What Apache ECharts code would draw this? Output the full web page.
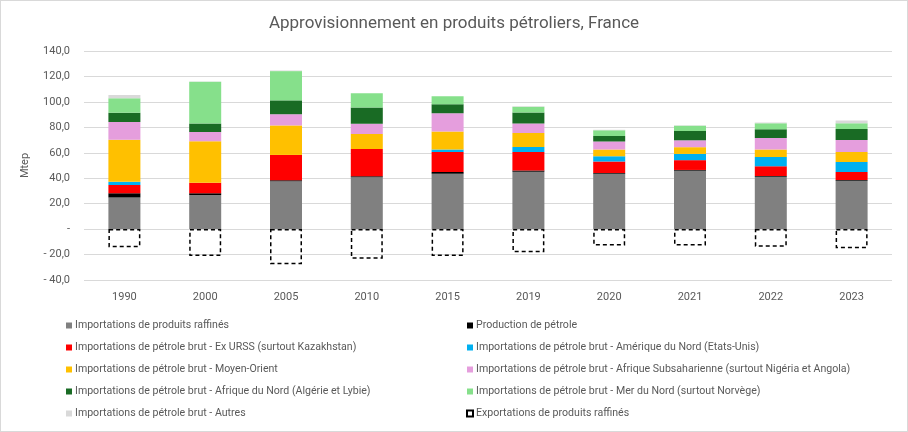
<!DOCTYPE html>
<html><head><meta charset="utf-8">
<script src="https://cdn.jsdelivr.net/npm/echarts@6/dist/echarts.min.js"></script>
<style>html,body{margin:0;padding:0;background:#fff}#c{width:906px;height:430px;border:1px solid #d9d9d9}</style>
</head><body><div id="c"></div>
<script>
const categories = ['1990','2000','2005','2010','2015','2019','2020','2021','2022','2023'];
const raffines   = [24.8, 26.9, 37.6, 40.7, 43.5, 45.1, 43.5, 45.9, 41.2, 38.1];
const production = [3.4, 1.3, 0.8, 0.8, 1.4, 1.0, 0.7, 0.6, 0.6, 0.6];
const exUrss     = [6.5, 8.3, 19.9, 21.5, 15.8, 14.6, 9.0, 7.7, 7.7, 6.2];
const ameriqueN  = [2.6, 0, 0, 0, 1.9, 3.9, 4.1, 4.9, 7.1, 7.8];
const moyenOr    = [33.0, 32.5, 23.2, 11.7, 14.2, 10.9, 5.3, 5.3, 6.0, 8.0];
const afriqueSub = [13.8, 7.3, 8.8, 8.1, 14.3, 7.6, 6.2, 5.4, 9.0, 9.3];
const afriqueN   = [7.3, 6.8, 10.9, 12.8, 7.0, 8.6, 4.4, 7.3, 6.8, 8.6];
const merNord    = [11.4, 32.7, 23.0, 11.1, 6.3, 4.4, 4.6, 4.2, 4.9, 4.7];
const autres     = [2.6, 0.3, 0.5, 0, 0, 0.5, 0.3, 0.3, 0.5, 2.1];
const exports_   = [-14.2, -21.2, -27.7, -23.2, -21.2, -18.1, -12.9, -12.9, -13.9, -15.0];
const yTicks = {min: -40, max: 140, interval: 20};

const names = [
 'Importations de produits raffinés',
 'Production de pétrole',
 'Importations de pétrole brut - Ex URSS (surtout Kazakhstan)',
 'Importations de pétrole brut - Amérique du Nord (Etats-Unis)',
 'Importations de pétrole brut - Moyen-Orient',
 'Importations de pétrole brut - Afrique Subsaharienne (surtout Nigéria et Angola)',
 'Importations de pétrole brut - Afrique du Nord (Algérie et Lybie)',
 'Importations de pétrole brut - Mer du Nord (surtout Norvège)',
 'Importations de pétrole brut - Autres',
 'Exportations de produits raffinés'
];
const datas = [raffines, production, exUrss, ameriqueN, moyenOr, afriqueSub, afriqueN, merNord, autres, exports_];
const colors = ['#808080','#000000','#FF0000','#00B0F0','#FFC000','#E59EDD','#196B24','#86E08B','#D9D9D9','#ffffff'];

const series = names.map((n,i)=>{
  const s = {name:n, type:'bar', stack:'a', data:datas[i], barWidth:32,
    itemStyle:{color:colors[i]}, emphasis:{disabled:true}};
  if (i===9) {
    s.itemStyle = {color:'rgba(255,255,255,0)', borderColor:'#000', borderWidth:1.5, borderType:[4,3]};
  }
  return s;
});

const fmt = v => {
  if (v===0) return '-';
  const a = Math.abs(v).toFixed(1).replace('.',',');
  return v<0 ? '- '+a : a;
};

const legendText = {color:'#595959', fontSize:10.6, fontFamily:'Roboto', padding:[0,0,0,-2]};
const chart = echarts.init(document.getElementById('c'));
chart.setOption({
  animation:false,
  title:{text:'Approvisionnement en produits pétroliers, France', left:'center', top:9,
    textStyle:{color:'#595959', fontSize:17, fontWeight:'normal', fontFamily:'Roboto'}},
  grid:{left:83, right:15, top:50, bottom:151, containLabel:false},
  xAxis:{type:'category', data:categories, axisTick:{show:false},
    axisLine:{show:false},
    axisLabel:{color:'#595959', fontSize:11, fontFamily:'Roboto', margin:12}},
  yAxis:{type:'value', min:yTicks.min, max:yTicks.max, interval:yTicks.interval,
    name:'Mtep', nameLocation:'middle', nameGap:53,
    nameTextStyle:{color:'#595959', fontSize:11, fontFamily:'Roboto'},
    axisLabel:{formatter:fmt, color:'#595959', fontSize:11, fontFamily:'Roboto', margin:14},
    splitLine:{lineStyle:{color:'#d9d9d9', width:1}}},
  legend:[
    {orient:'vertical', left:65, top:319, icon:'rect', itemWidth:6, itemHeight:6, itemGap:11,
     padding:0, textStyle:legendText, data:[names[0],names[2],names[4],names[6],names[8]], selectedMode:false},
    {orient:'vertical', left:465, top:319, icon:'rect', itemWidth:6, itemHeight:6, itemGap:11,
     padding:0, textStyle:legendText, data:[names[1],names[3],names[5],names[7],names[9]], selectedMode:false}
  ],
  series
});
</script></body></html>
